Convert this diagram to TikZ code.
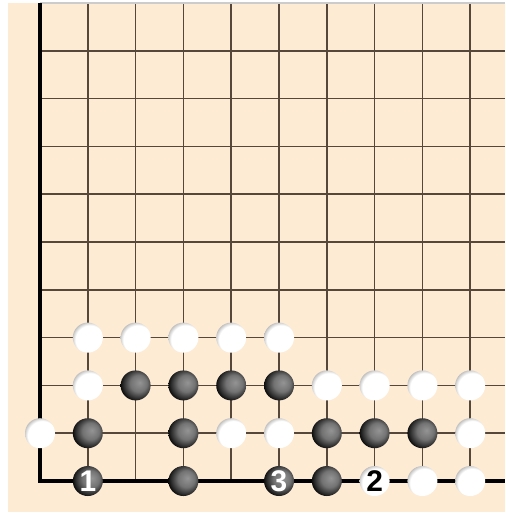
\documentclass[tikz,border=0pt]{standalone}
\usepackage{fontspec}
\setsansfont{Liberation Sans}
\usepackage{xcolor}
\usetikzlibrary{positioning}

\definecolor{boardbg}{RGB}{253,235,212}
\definecolor{gridln}{RGB}{85,72,58}
\pgfdeclareradialshading{blackstone}{\pgfpoint{7bp}{5bp}}{color(0bp)=(black!42); color(14bp)=(black!55); color(24bp)=(black!82); color(30bp)=(black); color(50bp)=(black)}
\pgfdeclareradialshading{whitestone}{\pgfpoint{7bp}{-7bp}}{color(0bp)=(white); color(24bp)=(white); color(29bp)=(black!22); color(36bp)=(black!55); color(50bp)=(black!55)}

\begin{document}
\begin{tikzpicture}[
  x=0.956cm, y=0.956cm,
  line/.style={gridln, line width=1pt},
  edge/.style={black, line width=2pt},
  stone/.style={circle, inner sep=0pt, minimum size=0.6cm},
  bstone/.style={stone, shade, shading=blackstone},
  wstone/.style={stone, shade, shading=whitestone},
  numw/.style={text=white, font={\sffamily\bfseries\fontsize{17pt}{17pt}\selectfont}},
  numb/.style={text=black, font={\sffamily\bfseries\fontsize{17pt}{17pt}\selectfont}}
]
  \useasboundingbox (-0.837,-0.669) rectangle (9.728,10.063);
  \fill[boardbg] (-0.67,-0.64) rectangle (9.728,10);

  % board lines
  \foreach \i in {1,...,9}
    \draw[line] (\i,0) -- (\i,10);
  \foreach \j in {1,...,9}
    \draw[line] (0,\j) -- (9.728,\j);
  \draw[black!20, line width=0.85pt] (0,10) -- (9.728,10);
  \draw[edge] (0,10) -- (0,0) -- (9.728,0);

  % white stones
  \foreach \c/\r in {1/3,2/3,3/3,4/3,5/3,1/2,6/2,7/2,8/2,9/2,0/1,4/1,5/1,9/1,8/0,9/0}
    \node[wstone] (w\c\r) at (\c,\r) {};
  % black stones
  \foreach \c/\r in {2/2,3/2,4/2,5/2,1/1,3/1,6/1,7/1,8/1,3/0,6/0}
    \node[bstone] (b\c\r) at (\c,\r) {};

  % numbered moves
  \node[bstone, numw] (m1) at (1,0) {1};
  \node[wstone, numb] (m2) at (7,0) {2};
  \node[bstone, numw] (m3) at (5,0) {3};
\end{tikzpicture}
\end{document}
